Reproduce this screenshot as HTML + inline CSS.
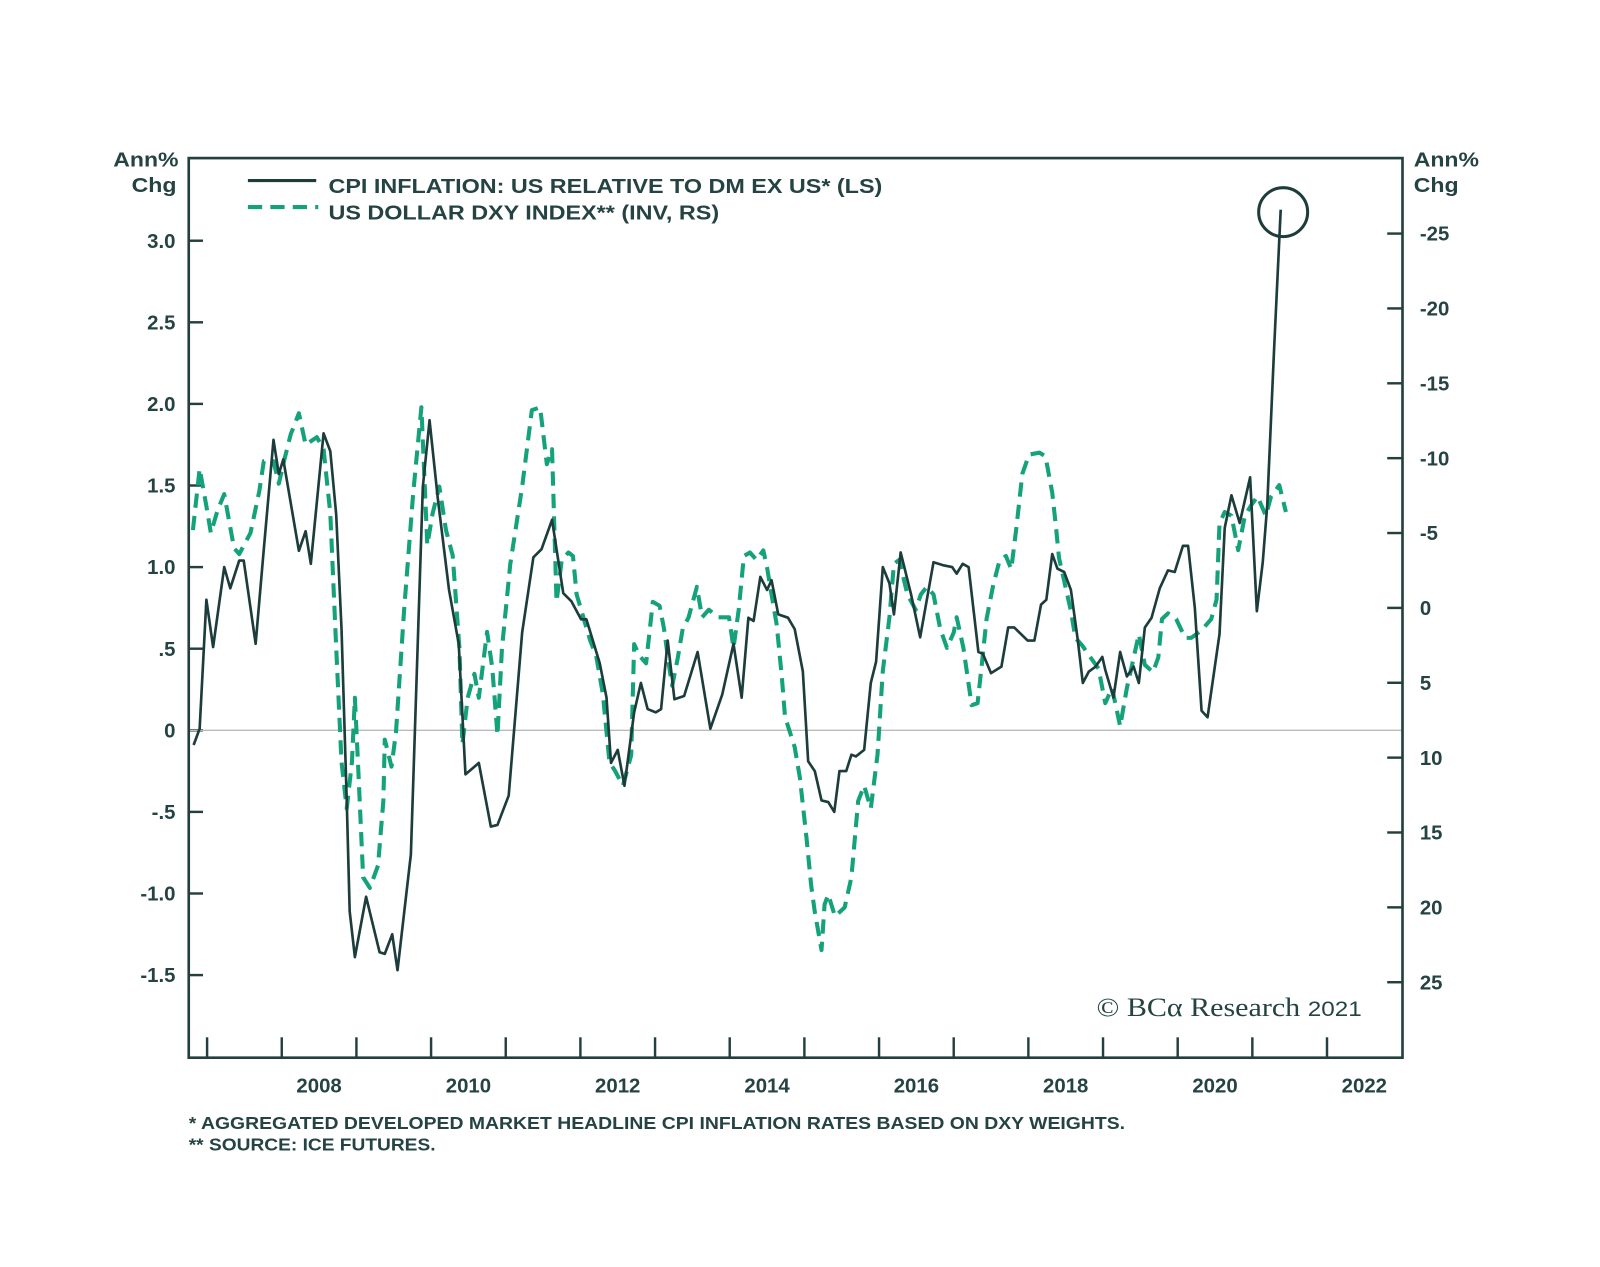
<!DOCTYPE html>
<html><head><meta charset="utf-8"><style>
html,body{margin:0;padding:0;background:#fff;}
svg{display:block;}
text{font-family:"Liberation Sans",Arial,sans-serif;fill:#254343;font-weight:bold;}
</style></head><body>
<svg id="chart" width="1600" height="1267" viewBox="0 0 1568.6 1242.2" xmlns="http://www.w3.org/2000/svg">
<g id="axes"></g>
<line x1="185" y1="716" x2="1375" y2="716" stroke="#bbbbbb" stroke-width="1.3"/>
<g id="series"></g>
<rect x="185" y="155" width="1190" height="882" fill="none" stroke="#23403f" stroke-width="2.6"/>
<text x="111" y="163" font-size="20" textLength="64" lengthAdjust="spacingAndGlyphs">Ann%</text>
<text x="129" y="188" font-size="20" textLength="44" lengthAdjust="spacingAndGlyphs">Chg</text>
<text x="1386" y="163" font-size="20" textLength="64" lengthAdjust="spacingAndGlyphs">Ann%</text>
<text x="1386" y="188" font-size="20" textLength="44" lengthAdjust="spacingAndGlyphs">Chg</text>
<g>
<line x1="243" y1="177" x2="310" y2="177" stroke="#1d3c3c" stroke-width="3"/>
<text x="322" y="189" font-size="20" textLength="543" lengthAdjust="spacingAndGlyphs">CPI INFLATION: US RELATIVE TO DM EX US* (LS)</text>
<line x1="243" y1="203" x2="312" y2="203" stroke="#14a27a" stroke-width="4" stroke-dasharray="14,8"/>
<text x="322" y="215" font-size="20" textLength="383" lengthAdjust="spacingAndGlyphs">US DOLLAR DXY INDEX** (INV, RS)</text>
</g>
<circle cx="1258" cy="208" r="24" fill="none" stroke="#1d3c3c" stroke-width="3"/>
<text x="1075" y="996" font-size="26" textLength="260" lengthAdjust="spacingAndGlyphs" style="font-family:'Liberation Serif',serif;font-weight:normal">© BCα Research <tspan font-family="Liberation Sans" font-size="21">2021</tspan></text>
<text x="185" y="1107" font-size="17" textLength="918" lengthAdjust="spacingAndGlyphs">*  AGGREGATED DEVELOPED MARKET HEADLINE CPI INFLATION RATES BASED ON DXY WEIGHTS.</text>
<text x="185" y="1128" font-size="17" textLength="242" lengthAdjust="spacingAndGlyphs">** SOURCE: ICE FUTURES.</text>
</svg>
<script>
const leftTicks=[3.0,2.5,2.0,1.5,1.0,0.5,0,-0.5,-1.0,-1.5];
const leftTickLabels=["3.0","2.5","2.0","1.5","1.0",".5","0","-.5","-1.0","-1.5"];
const rightTicks=[-25,-20,-15,-10,-5,0,5,10,15,20,25];
const rightTickLabels=["-25","-20","-15","-10","-5","0","5","10","15","20","25"];
const yearTicks=[2007,2008,2009,2010,2011,2012,2013,2014,2015,2016,2017,2018,2019,2020,2021,2022];
const yearLabels=[2008,2010,2012,2014,2016,2018,2020,2022];
const cpiDates=[2006.82,2006.90,2006.99,2007.08,2007.23,2007.31,2007.43,2007.49,2007.65,2007.76,2007.89,2007.96,2008.02,2008.23,2008.32,2008.39,2008.56,2008.65,2008.73,2008.80,2008.87,2008.91,2008.98,2009.13,2009.31,2009.38,2009.48,2009.55,2009.73,2009.89,2009.98,2010.09,2010.24,2010.37,2010.46,2010.64,2010.80,2010.89,2011.04,2011.22,2011.37,2011.48,2011.62,2011.77,2011.88,2012.01,2012.08,2012.26,2012.35,2012.41,2012.50,2012.59,2012.72,2012.81,2012.90,2013.01,2013.08,2013.17,2013.26,2013.39,2013.57,2013.74,2013.90,2014.05,2014.16,2014.25,2014.32,2014.41,2014.50,2014.56,2014.65,2014.78,2014.87,2014.98,2015.05,2015.14,2015.23,2015.32,2015.40,2015.47,2015.56,2015.63,2015.69,2015.80,2015.89,2015.96,2016.05,2016.14,2016.20,2016.29,2016.43,2016.55,2016.73,2016.87,2016.98,2017.04,2017.12,2017.20,2017.33,2017.39,2017.50,2017.64,2017.73,2017.81,2017.99,2018.08,2018.17,2018.24,2018.32,2018.39,2018.48,2018.57,2018.66,2018.73,2018.81,2018.90,2018.99,2019.03,2019.14,2019.23,2019.32,2019.41,2019.48,2019.56,2019.65,2019.76,2019.87,2019.96,2020.07,2020.14,2020.23,2020.32,2020.40,2020.56,2020.63,2020.72,2020.83,2020.97,2021.06,2021.14,2021.20,2021.29,2021.38];
const cpiValues=[-0.09,0.01,0.80,0.51,1.0,0.87,1.04,1.04,0.53,1.11,1.78,1.57,1.66,1.10,1.22,1.02,1.82,1.71,1.32,0.62,-0.43,-1.11,-1.39,-1.02,-1.36,-1.37,-1.25,-1.47,-0.76,1.49,1.9,1.42,0.86,0.53,-0.27,-0.2,-0.59,-0.58,-0.4,0.6,1.06,1.11,1.29,0.84,0.79,0.68,0.68,0.41,0.2,-0.2,-0.12,-0.34,0.11,0.29,0.13,0.11,0.13,0.55,0.19,0.21,0.48,0.01,0.22,0.53,0.2,0.69,0.67,0.94,0.86,0.92,0.71,0.69,0.62,0.36,-0.19,-0.25,-0.43,-0.44,-0.5,-0.25,-0.25,-0.15,-0.16,-0.12,0.29,0.42,1.0,0.9,0.71,1.09,0.83,0.57,1.03,1.01,1.0,0.96,1.02,1.0,0.48,0.47,0.35,0.39,0.63,0.63,0.55,0.55,0.77,0.8,1.08,0.99,0.97,0.86,0.56,0.29,0.36,0.39,0.45,0.37,0.2,0.48,0.33,0.39,0.29,0.63,0.69,0.87,0.98,0.97,1.13,1.13,0.75,0.12,0.08,0.59,1.24,1.44,1.27,1.55,0.73,1.03,1.38,2.32,3.19];
const dxyDates=[2006.81,2006.90,2006.99,2007.05,2007.14,2007.23,2007.36,2007.43,2007.58,2007.70,2007.76,2007.89,2007.96,2008.03,2008.12,2008.23,2008.32,2008.47,2008.56,2008.65,2008.73,2008.80,2008.87,2008.94,2008.98,2009.02,2009.09,2009.18,2009.29,2009.36,2009.38,2009.47,2009.53,2009.64,2009.76,2009.87,2009.95,2010.02,2010.11,2010.20,2010.29,2010.38,2010.42,2010.49,2010.58,2010.64,2010.75,2010.82,2010.89,2010.95,2011.06,2011.22,2011.35,2011.46,2011.55,2011.62,2011.68,2011.75,2011.84,2011.90,2011.95,2012.04,2012.13,2012.21,2012.30,2012.39,2012.46,2012.57,2012.68,2012.72,2012.79,2012.88,2012.97,2013.06,2013.12,2013.19,2013.23,2013.30,2013.37,2013.45,2013.56,2013.63,2013.72,2013.85,2013.99,2014.05,2014.12,2014.19,2014.27,2014.36,2014.45,2014.50,2014.56,2014.63,2014.70,2014.74,2014.87,2014.94,2015.03,2015.09,2015.14,2015.23,2015.27,2015.32,2015.41,2015.54,2015.63,2015.72,2015.80,2015.89,2015.98,2016.05,2016.14,2016.20,2016.27,2016.38,2016.49,2016.56,2016.64,2016.73,2016.82,2016.91,2017.00,2017.04,2017.13,2017.24,2017.32,2017.37,2017.44,2017.53,2017.61,2017.70,2017.77,2017.84,2017.92,2018.01,2018.15,2018.23,2018.32,2018.37,2018.41,2018.48,2018.57,2018.63,2018.72,2018.83,2018.94,2019.03,2019.12,2019.23,2019.32,2019.39,2019.48,2019.56,2019.67,2019.74,2019.79,2019.87,2019.98,2020.10,2020.18,2020.32,2020.45,2020.52,2020.56,2020.63,2020.72,2020.81,2020.90,2020.99,2021.07,2021.18,2021.25,2021.36,2021.45];
const dxyValues=[-5.2,-9.3,-6.8,-5.0,-6.5,-7.6,-4.0,-3.6,-5.0,-7.8,-9.8,-9.8,-8.3,-9.8,-11.6,-13.0,-10.9,-11.4,-10.6,-6.3,2.7,10.3,13.4,10.3,6.0,10.3,18.0,18.7,17.2,12.9,8.8,10.6,8.3,0.1,-7.6,-13.4,-4.2,-6.3,-8.1,-5.2,-3.5,2.7,9.1,6.0,4.4,6.0,1.6,4.0,8.5,2.7,-2.9,-8.1,-13.2,-13.4,-9.6,-10.6,-0.4,-3.2,-3.7,-3.46,-0.9,0.63,2.16,3.19,5.74,10.3,10.85,11.87,9.83,2.42,3.19,3.7,-0.4,-0.14,1.4,3.95,5.2,3.44,1.4,0.63,-1.4,0.63,0.12,0.63,0.63,2.67,0.12,-3.46,-3.7,-3.2,-3.84,-2.7,-0.9,1.14,4.71,7.27,9.3,11.35,15.44,18.5,20.3,22.85,19.8,19.14,20.6,20.0,18.0,12.9,11.87,13.4,9.8,4.2,0.63,-2.95,-3.2,-0.9,0.12,-0.9,-1.4,-0.9,1.4,2.67,1.65,0.63,2.67,6.5,6.36,4.06,0.74,-1.55,-3.09,-3.47,-2.58,-5.39,-8.96,-10.24,-10.37,-10.11,-7.69,-5.39,-3.35,-1.8,0.2,2.0,2.5,3.3,4.06,6.36,5.34,7.9,5.34,3.8,1.76,3.8,4.3,3.3,0.74,0.36,0.74,2.0,2.0,1.5,0.74,-0.55,-5.65,-6.4,-6.16,-3.86,-6.16,-6.9,-7.44,-6.16,-7.44,-8.2,-6.4];

const NS='http://www.w3.org/2000/svg';
function xScale(t){return 203+(t-2007)*73.2;}
function yLeft(v){return 716-v*160;}
function yRight(r){return 596+r*14.68;}
function mk(tag,attrs,parent){const e=document.createElementNS(NS,tag);for(const k in attrs)e.setAttribute(k,attrs[k]);parent.appendChild(e);return e;}
const axes=document.getElementById('axes');
leftTicks.forEach((v,i)=>{
  const l=mk('line',{x1:185,x2:199,y1:yLeft(v),y2:yLeft(v),stroke:'#23403f','stroke-width':2.4},axes);
  
  
  const t=mk('text',{x:172,y:yLeft(v)+7,'text-anchor':'end','font-size':20},axes);
  t.textContent=leftTickLabels[i];
  
  
});
rightTicks.forEach((v,i)=>{
  const l=mk('line',{x1:1360,x2:1375,y1:yRight(v),y2:yRight(v),stroke:'#23403f','stroke-width':2.4},axes);
  
  
  const t=mk('text',{x:1392,y:yRight(v)+7,'font-size':20},axes);
  t.textContent=rightTickLabels[i];
  
  
});
yearTicks.forEach(y=>{
  const l=mk('line',{x1:xScale(y),x2:xScale(y),y1:1017,y2:1037,stroke:'#23403f','stroke-width':2.4},axes);
  
  
});
yearLabels.forEach(y=>{
  const t=mk('text',{x:xScale(y+0.5),y:1071,'text-anchor':'middle','font-size':20},axes);
  t.textContent=String(y);
  
  
});
const series=document.getElementById('series');
const dP=dxyDates.map((t,i)=>xScale(t).toFixed(1)+','+yRight(dxyValues[i]).toFixed(1)).join(' ');
const dl=mk('polyline',{points:dP,fill:'none',stroke:'#14a27a','stroke-width':4,'stroke-dasharray':'14,8','stroke-linejoin':'round'},series);


const cP=cpiDates.map((t,i)=>xScale(t).toFixed(1)+','+yLeft(cpiValues[i]).toFixed(1)).join(' ');
const cl=mk('polyline',{points:cP,fill:'none',stroke:'#1d3c3c','stroke-width':2.6,'stroke-linejoin':'round'},series);


</script>
</body></html>
